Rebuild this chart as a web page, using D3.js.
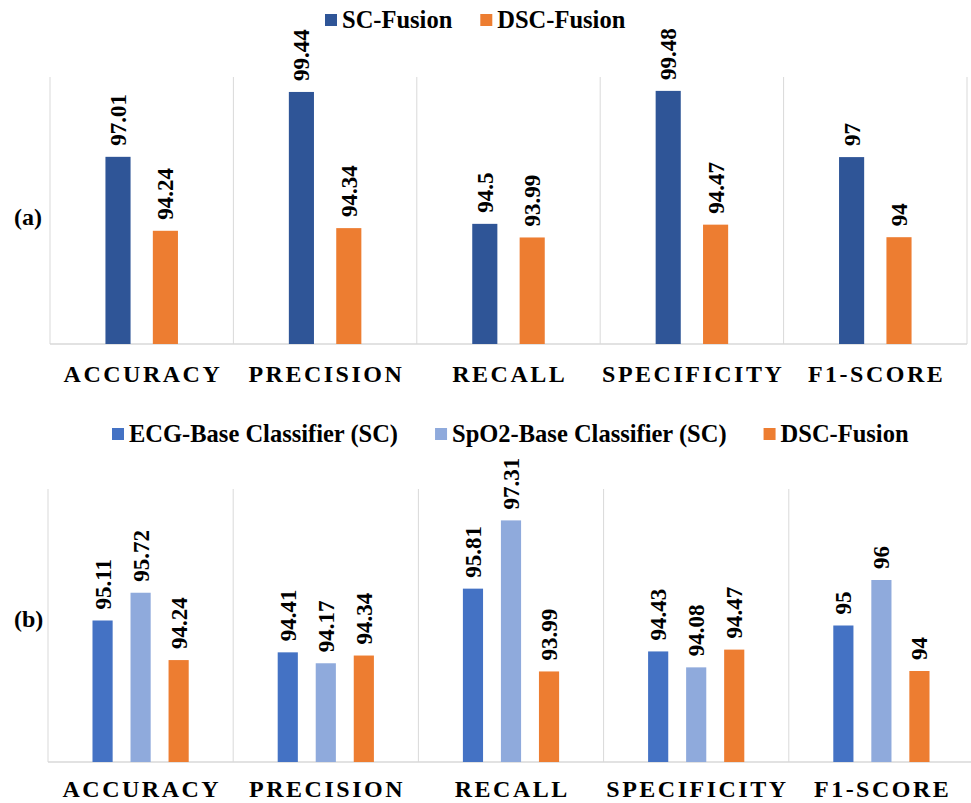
<!DOCTYPE html>
<html>
<head>
<meta charset="utf-8">
<script src="https://cdn.jsdelivr.net/npm/d3@7"></script>
<style>
  html, body { margin: 0; padding: 0; background: #ffffff; }
  svg { display: block; }
  text { font-family: "Liberation Serif", "Times New Roman", serif; font-weight: bold; fill: #000; }
</style>
</head>
<body>
<svg id="chart" width="971" height="803"></svg>
<script>
// ---------- data ----------
const categories = ["ACCURACY", "PRECISION", "RECALL", "SPECIFICITY", "F1-SCORE"];

const seriesA = ["SC-Fusion", "DSC-Fusion"];
const scFusion = [97.01, 99.44, 94.5, 99.48, 97];
const dscFusionA = [94.24, 94.34, 93.99, 94.47, 94];

const seriesB = ["ECG-Base Classifier (SC)", "SpO2-Base Classifier (SC)", "DSC-Fusion"];
const ecgBase = [95.11, 94.41, 95.81, 94.43, 95];
const spo2Base = [95.72, 94.17, 97.31, 94.08, 96];
const dscFusionB = [94.24, 94.34, 93.99, 94.47, 94];

const yDomainA = [90, 100];
const yDomainB = [92, 98];

const panelLabels = ["(a)", "(b)"];

// ---------- styles / layout ----------
const colorsA = ["#2F5597", "#ED7D31"];
const colorsB = ["#4472C4", "#8FAADC", "#ED7D31"];
const gridColor = "#D9D9D9";

const svg = d3.select("#chart");

function drawPanel(cfg) {
  const g = svg.append("g");
  const x0 = d3.scaleBand().domain(categories).range([cfg.left, cfg.right]).padding(0);
  const x1 = d3.scaleBand().domain(cfg.series).range([0, x0.bandwidth()])
    .paddingInner(0.47).paddingOuter(1.17);
  const y = d3.scaleLinear().domain(cfg.yDomain).range([cfg.bottom, cfg.top]);
  const color = d3.scaleOrdinal().domain(cfg.series).range(cfg.colors);

  // vertical gridlines (category separators)
  const sepX = categories.map(c => x0(c)).concat([cfg.right]);
  g.selectAll("line.sep").data(sepX).join("line")
    .attr("x1", d => d).attr("x2", d => d)
    .attr("y1", cfg.top).attr("y2", cfg.bottom)
    .attr("stroke", gridColor).attr("stroke-width", 1);
  // baseline
  g.append("line")
    .attr("x1", cfg.left).attr("x2", cfg.right)
    .attr("y1", cfg.bottom).attr("y2", cfg.bottom)
    .attr("stroke", gridColor).attr("stroke-width", 1.5);

  const rows = [];
  categories.forEach((c, i) => {
    cfg.series.forEach((s, j) => rows.push({ cat: c, ser: s, val: cfg.values[j][i] }));
  });

  g.selectAll("rect.bar").data(rows).join("rect")
    .attr("x", d => x0(d.cat) + x1(d.ser))
    .attr("width", x1.bandwidth())
    .attr("y", d => y(d.val))
    .attr("height", d => y(cfg.yDomain[0]) - y(d.val))
    .attr("fill", d => color(d.ser));

  g.selectAll("text.val").data(rows).join("text")
    .attr("transform", d => `translate(${x0(d.cat) + x1(d.ser) + x1.bandwidth() / 2},${y(d.val) - 11}) rotate(-90)`)
    .attr("text-anchor", "start")
    .attr("dy", "0.35em")
    .style("font-size", "23px")
    .text(d => String(d.val));

  // category labels
  g.selectAll("text.cat").data(categories).join("text")
    .attr("x", d => x0(d) + x0.bandwidth() / 2 + 1.25)
    .attr("y", cfg.catY)
    .attr("text-anchor", "middle")
    .style("font-size", "24px")
    .style("letter-spacing", "2.5px")
    .text(d => d);

  // panel label
  g.append("text")
    .attr("x", 14).attr("y", cfg.labelY)
    .style("font-size", "24px")
    .text(cfg.label);

  // legend
  let lx = cfg.legendX;
  cfg.series.forEach((s, j) => {
    g.append("rect")
      .attr("x", lx).attr("y", cfg.legendY - 14)
      .attr("width", 12).attr("height", 12)
      .attr("fill", cfg.colors[j]);
    const t = g.append("text")
      .attr("x", lx + 17).attr("y", cfg.legendY)
      .style("font-size", "24.5px")
      .text(s);
    lx = lx + 17 + t.node().getComputedTextLength() + cfg.legendGap;
  });
}

drawPanel({
  series: seriesA, values: [scFusion, dscFusionA], colors: colorsA,
  yDomain: yDomainA, left: 50, right: 967, top: 77, bottom: 344,
  catY: 382, label: panelLabels[0], labelY: 225,
  legendX: 325, legendY: 28, legendGap: 28
});

drawPanel({
  series: seriesB, values: [ecgBase, spo2Base, dscFusionB], colors: colorsB,
  yDomain: yDomainB, left: 48, right: 974, top: 489, bottom: 762,
  catY: 797, label: panelLabels[1], labelY: 627,
  legendX: 112, legendY: 442, legendGap: 37
});
</script>
</body>
</html>
